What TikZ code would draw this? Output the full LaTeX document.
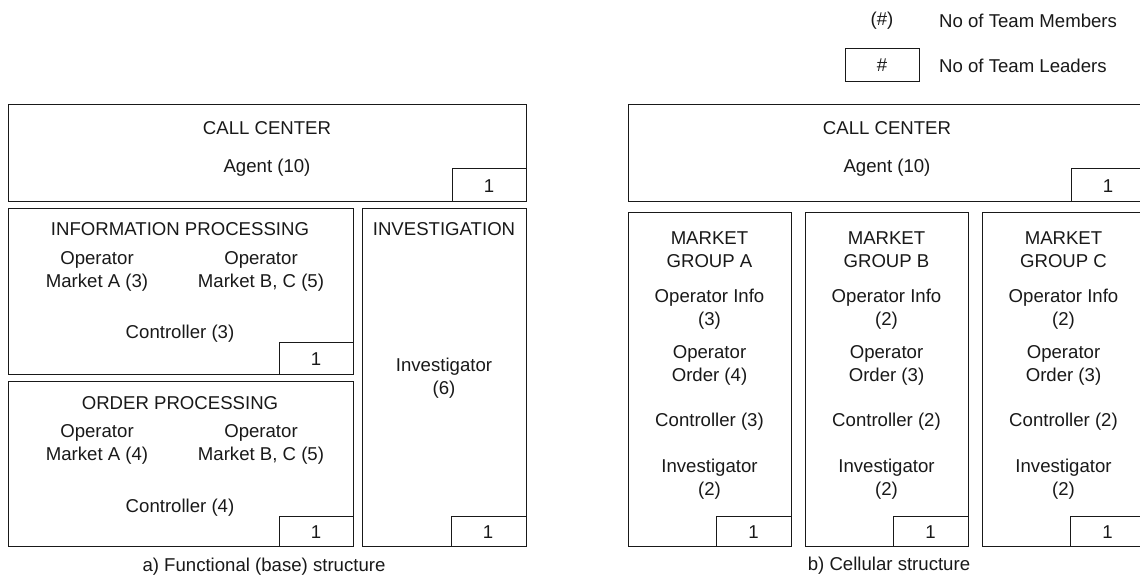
\documentclass[tikz,border=0pt]{standalone}
\usepackage{fontspec}
\setmainfont{Liberation Sans}
\newcommand\fsz{\fontsize{18.6}{23}\selectfont}
\tikzset{
  box/.style={draw=black!90, line width=1.3pt, inner sep=0pt, anchor=north west},
  txt/.style={font=\fsz, align=center, inner sep=0pt, text=black!90},
  ltxt/.style={font=\fsz, inner sep=0pt, anchor=west, text=black!90},
}
\begin{document}
\begin{tikzpicture}[x=1pt,y=-1pt]
\path[use as bounding box, clip] (0,0) rectangle (1140,577);
\fill[white] (0,0) rectangle (1140,577);

% ---------- legend ----------
\node[txt] (lgm) at (882,21) {(\#)};
\node[ltxt] (lgmt) at (939,21) {No of Team Members};
\node[box, minimum width=74pt, minimum height=33pt] (lgl) at (845,48) {};
\node[txt] (lglt) at (882,65) {\#};
\node[ltxt] (lglx) at (939,66) {No of Team Leaders};

% ---------- a) functional structure ----------
\node[box, minimum width=518pt, minimum height=97pt] (cca) at (8,104) {};
\node[box, minimum width=74pt, minimum height=33pt] (ccal) at (452,168) {};
\node[txt] (ccat) at (267,128) {CALL CENTER};
\node[txt] (ccaa) at (267,168) {Agent (10)};
\node[txt] (ccan) at (489,186) {1};

\node[box, minimum width=345pt, minimum height=166pt] (info) at (8,208) {};
\node[box, minimum width=74pt, minimum height=32pt] (infol) at (279,342) {};
\node[txt] (infot) at (180,229) {INFORMATION PROCESSING};
\node[txt] (infoa) at (97,271.5) {Operator\\Market A (3)};
\node[txt] (infob) at (261,271.5) {Operator\\Market B, C (5)};
\node[txt] (infoc) at (180,334) {Controller (3)};
\node[txt] (infon) at (316,359) {1};

\node[box, minimum width=345pt, minimum height=165pt] (ord) at (8,381) {};
\node[box, minimum width=74pt, minimum height=30pt] (ordl) at (279,516) {};
\node[txt] (ordt) at (180,403) {ORDER PROCESSING};
\node[txt] (orda) at (97,444.5) {Operator\\Market A (4)};
\node[txt] (ordb) at (261,444.5) {Operator\\Market B, C (5)};
\node[txt] (ordc) at (180,508) {Controller (4)};
\node[txt] (ordn) at (316,532) {1};

\node[box, minimum width=164pt, minimum height=338pt] (inv) at (362,208) {};
\node[box, minimum width=75pt, minimum height=30pt] (invl) at (451,516) {};
\node[txt] (invt) at (444,229) {INVESTIGATION};
\node[txt] (invi) at (444,378.5) {Investigator\\(6)};
\node[txt] (invn) at (488,532) {1};

\node[txt] (capa) at (264,567) {a) Functional (base) structure};

% ---------- b) cellular structure ----------
\node[box, minimum width=518pt, minimum height=97pt] (ccb) at (628,104) {};
\node[box, minimum width=75pt, minimum height=33pt] (ccbl) at (1071,168) {};
\node[txt] (ccbt) at (887,128) {CALL CENTER};
\node[txt] (ccba) at (887,168) {Agent (10)};
\node[txt] (ccbn) at (1108,186) {1};

\foreach \nm/\x/\g/\oi/\oo/\cc in {mA/628/A/3/4/3, mB/805/B/2/3/2, mC/982/C/2/3/2}{
  \node[box, minimum width=163pt, minimum height=334pt] (\nm) at (\x,212) {};
  \node[box, minimum width=75pt, minimum height=30pt] (\nm l) at (\x+88,516) {};
  \node[txt] (\nm t) at (\x+81.5,250) {MARKET\\GROUP \g};
  \node[txt] (\nm i) at (\x+81.5,309.5) {Operator Info\\(\oi)};
  \node[txt] (\nm o) at (\x+81.5,365) {Operator\\Order (\oo)};
  \node[txt] (\nm c) at (\x+81.5,422) {Controller (\cc)};
  \node[txt] (\nm v) at (\x+81.5,479) {Investigator\\(2)};
  \node[txt] (\nm n) at (\x+125.5,532) {1};
}

\node[txt] (capb) at (889,566) {b) Cellular structure};
\end{tikzpicture}
\end{document}
